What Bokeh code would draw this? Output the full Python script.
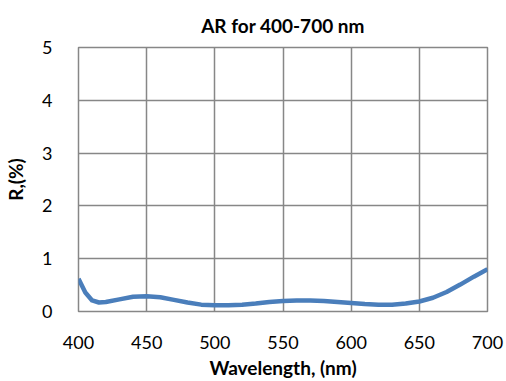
from bokeh.plotting import figure
from bokeh.embed import file_html
from bokeh.resources import INLINE
from bokeh.models import FixedTicker, Range1d

wavelength = [400, 405, 410, 415, 420, 430, 440, 450, 460, 470, 480, 490, 500, 510, 520,
              530, 540, 550, 560, 570, 580, 590, 600, 610, 620, 630, 640, 650, 660, 670,
              680, 690, 700]
reflectance = [0.62, 0.36, 0.21, 0.17, 0.18, 0.23, 0.28, 0.29, 0.27, 0.22, 0.17, 0.13, 0.12,
               0.12, 0.13, 0.15, 0.18, 0.20, 0.21, 0.21, 0.20, 0.18, 0.16, 0.14, 0.13, 0.13,
               0.15, 0.19, 0.26, 0.37, 0.51, 0.66, 0.80]
x_ticks = [400, 450, 500, 550, 600, 650, 700]
y_ticks = [0, 1, 2, 3, 4, 5]

FONT = "Lato"
GRID = "#878787"

p = figure(width=506, height=381, output_backend="svg", toolbar_location=None,
           x_range=Range1d(400, 700), y_range=Range1d(0, 5),
           min_border_left=78, min_border_right=19, min_border_top=47, min_border_bottom=70,
           title="AR for 400-700 nm")
p.title.align = "center"
p.title.vertical_align = "top"
p.title.text_font = FONT
p.title.text_font_size = "19px"
p.title.text_font_style = "bold"
p.title.text_color = "#000000"
p.title.text_line_height = 1.0
p.title.standoff = 18

p.line(wavelength, reflectance, line_color="#4a7ebb", line_width=4.5, line_join="round")

for ax in (p.xaxis[0], p.yaxis[0]):
    ax.axis_line_color = None
    ax.major_tick_line_color = None
    ax.minor_tick_line_color = None
    ax.major_label_text_font = FONT
    ax.major_label_text_font_size = "18px"
    ax.major_label_text_color = "#000000"
    ax.axis_label_text_font = FONT
    ax.axis_label_text_font_size = "19px"
    ax.axis_label_text_font_style = "bold"
    ax.axis_label_text_color = "#000000"

p.xaxis.ticker = FixedTicker(ticks=x_ticks)
p.yaxis.ticker = FixedTicker(ticks=y_ticks)
p.xaxis.axis_label = "Wavelength, (nm)"
p.yaxis.axis_label = "R,(%)"
p.xaxis.major_label_standoff = 18
p.yaxis.major_label_standoff = 20
p.xaxis.axis_label_standoff = 4
p.yaxis.axis_label_standoff = 12

p.xgrid.grid_line_color = GRID
p.ygrid.grid_line_color = GRID
p.xgrid.grid_line_width = 1.5
p.ygrid.grid_line_width = 1.5
p.outline_line_color = GRID
p.outline_line_width = 1.5
p.outline_line_alpha = 1.0

open("out.html", "w").write(file_html(p, INLINE))
